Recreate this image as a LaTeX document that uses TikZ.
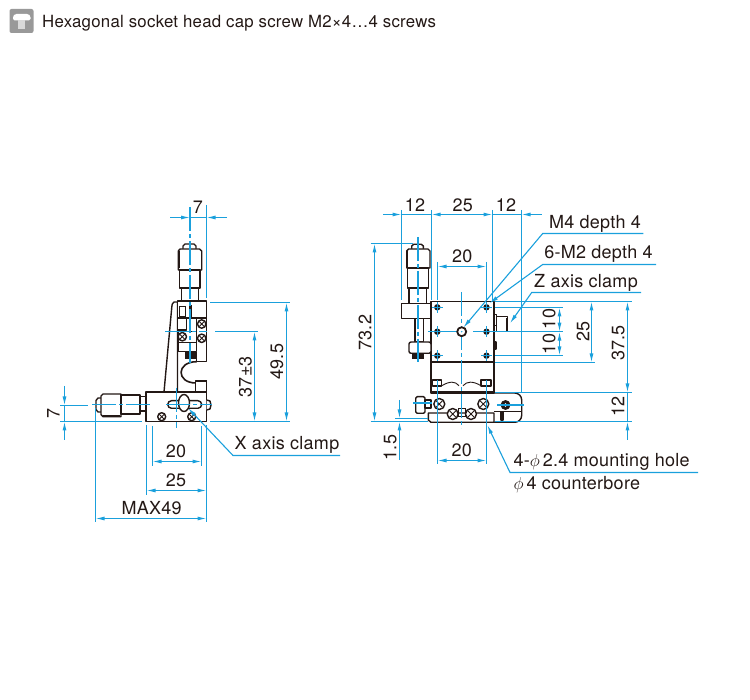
\documentclass[tikz,border=0pt]{standalone}
\usepackage{fontspec}
\setmainfont[LetterSpace=1.5]{TeX Gyre Heros}
\usetikzlibrary{arrows.meta}
\definecolor{ink}{HTML}{231815}
\definecolor{dimblue}{HTML}{1AA0DC}
\tikzset{
  part/.style={draw=ink,line width=1.4pt,fill=white,line join=round},
  thin part/.style={draw=ink,line width=0.9pt},
  dark part/.style={draw=ink,line width=0.8pt,fill=ink},
  dimline/.style={draw=dimblue,line width=1.1pt,{Latex[length=9pt,width=4pt]}-{Latex[length=9pt,width=4pt]}},
  onehead/.style={draw=dimblue,line width=1.1pt,-{Latex[length=9pt,width=4pt]}},
  extline/.style={draw=dimblue,line width=1.1pt},
  centerline/.style={draw=dimblue,line width=1.1pt,dash pattern=on 24pt off 3pt on 4pt off 3pt},
  leader/.style={draw=dimblue,line width=1.1pt,-{Latex[length=9pt,width=4pt]}},
  lbl/.style={text=ink,font=\fontsize{18}{20}\selectfont,inner sep=0pt},
  crossscrew/.pic={
    \draw[part] (0,0) circle[radius=#1];
    \draw[thin part] (-0.6*#1,-0.6*#1) -- (0.6*#1,0.6*#1) (-0.6*#1,0.6*#1) -- (0.6*#1,-0.6*#1);
  },
  holemark/.pic={
    \fill[ink] (0,0) circle[radius=3.2];
    \draw[extline] (-5.5,0) -- (5.5,0) (0,-5.5) -- (0,5.5);
  }
}
\begin{document}
\begin{tikzpicture}[x=1pt,y=-1pt]
\useasboundingbox (0,0) rectangle (750,700);

% header
\fill[black!40,rounded corners=2pt] (9.5,9) rectangle (33.5,33);
\fill[white,rounded corners=1.5pt] (13,20.5) -- (13,16) -- (15,14) -- (28.5,14) -- (30.5,16) -- (30.5,20.5) -- cycle;
\fill[white!85!black] (18.3,20.5) rectangle (25,29.3);
\node[lbl,anchor=west,font=\fontsize{16.8}{19}\selectfont] (title) at (42,23) {Hexagonal socket head cap screw M2×4…4 screws};

% side view, upper stage
\draw[part] (177.5,302) -- (174,302) .. controls (172,303) and (172,305) .. (171.8,307) -- (164,392) -- (177.5,392) -- cycle;
\draw[part] (177.7,301) rectangle (206.7,318);
\draw[thin part] (179.3,306.7) rectangle (185,316);
\draw[part] (177.7,318) rectangle (186.7,330);
\draw[part] (196.7,318) rectangle (206.7,361.5);
\draw[part] (178,331.7) rectangle (196.7,351.7);
\draw[thin part] (178,342.3) -- (196.7,342.3);
\draw[dark part] (185,352) rectangle (195,358);
\draw[line width=2.4pt,ink] (190.5,305) -- (190.5,318);
\pic at (201.7,324) {crossscrew=4.2};
\pic at (201.7,338.3) {crossscrew=4.2};
\pic at (182.3,336.7) {crossscrew=4.2};
\draw[part,fill=none,line width=1.6pt] (196.7,361.7) .. controls (176,361.7) and (176,383) .. (196,383);
\draw[part] (195.7,381) rectangle (206.7,392);
\draw[thin part] (200,380) -- (206.7,380);

% side view, micrometer on top
\draw[part] (183,249) -- (183,246) -- (185,244) -- (194,244) -- (196,246) -- (196,249);
\draw[part] (178.3,251) -- (180,249) -- (199.5,249) -- (201.7,251) -- (201.7,270) -- (178.3,270) -- cycle;
\draw[part] (179.3,270) rectangle (200,288);
\draw[part] (181.7,288) rectangle (198.3,301);
\draw[line width=2pt,ink] (178.6,251) -- (178.6,268);

% side view, lower stage
\draw[part] (146,392) rectangle (206.7,421.7);
\draw[line width=2pt,ink] (146,392) -- (177,392);
\draw[part] (206.7,400) -- (210,401) -- (211,405) -- (210,409) -- (206.7,410);
\draw[part,rounded corners=3.8pt] (167.7,400.7) rectangle (201.7,408.3);
\draw[part] (184,403) ellipse[x radius=5.5,y radius=8.5];
\pic at (161.7,416.7) {crossscrew=4};
\pic at (191.7,416.7) {crossscrew=4};

% side view, micrometer on the left
\draw[part] (101,398) -- (98,398) -- (96,400.5) -- (96,409.5) -- (98,412) -- (101,412);
\draw[part] (103,394) -- (101,396) -- (101,414.5) -- (103,416.7) -- (121,416.7) -- (121,394) -- cycle;
\draw[part] (121,395) rectangle (140,414);
\draw[part] (140,396.7) rectangle (146,411);
\draw[line width=2pt,ink] (103,416.3) -- (120,416.3);

% front view, plate and base
\draw[part,rounded corners=7pt] (431,393) -- (521.7,393) -- (521.7,422.3) -- (431,422.3);
\draw[part] (431,362) rectangle (494,393);
\draw[part] (428.3,413) -- (428.3,420) -- (431,422.3) -- (494,422.3) -- (494,413) -- cycle;
\draw[thin part] (494,411.5) -- (521.5,411.5);
\draw[part] (432.3,380) rectangle (441.7,386);
\draw[part] (481,380) rectangle (491,386);
\draw[thin part] (441.7,385.7) .. controls (450,381) and (455,381) .. (459,385.7) (463,385.7) .. controls (467,381) and (473,381) .. (481,385.7);
\draw[thin part] (431,391.7) -- (494,391.7);
\draw[part] (431,301.5) rectangle (494,362);
\draw[part] (494,314.3) rectangle (496.5,325.7);
\draw[part] (494,342) rectangle (496,349);
\draw[part] (496.5,316.7) rectangle (507.7,331.7);
\draw[line width=2pt,ink] (507.2,318) -- (507.2,331);
\draw[thin part] (458,408) rectangle (465,416);
\pic at (452.7,414) {crossscrew=5.5};
\pic at (471,414) {crossscrew=5.5};
\pic at (439.3,404) {crossscrew=5.5};
\pic at (483.3,404) {crossscrew=5.5};
\draw[dark part] (505.5,405) circle[radius=4.5];
\fill[white] (505.5,405) circle[radius=1.8];
\draw[part] (501,412) rectangle (503,420);

% front view, micrometer
\draw[part] (411.7,249) -- (411.7,246) -- (413.7,244.3) -- (421.3,244.3) -- (423.3,246) -- (423.3,249);
\draw[part] (406.7,251) -- (408.5,249) -- (428,249) -- (430,251) -- (430,268) -- (406.7,268) -- cycle;
\draw[part] (407.7,268) rectangle (428.3,288);
\draw[part] (409,288) rectangle (426.7,303.3);
\draw[part] (401.7,303.3) rectangle (431,318.3);
\draw[part] (415,318.3) rectangle (423.3,342);
\draw[part,rounded corners=2pt] (409,342) rectangle (431,353.3);
\draw[dark part] (412.3,353.3) rectangle (423.3,358);
\draw[line width=2pt,ink] (406.9,251) -- (406.9,267);
\draw[part,rounded corners=1.5pt] (415.7,396.7) rectangle (425,413.3);
\draw[part] (425,400) rectangle (431,408);

% center lines
\draw[centerline] (190,207) -- (190,363);
\draw[centerline] (165,331.7) -- (207,331.7);
\draw[centerline] (176.7,388) -- (176.7,428);
\draw[centerline] (92,404.5) -- (152,404.5);
\draw[centerline] (166,404.5) -- (212,404.5);
\draw[centerline] (418,237) -- (418,362);
\draw[centerline] (461.7,292) -- (461.7,428);
\draw[extline] (428,331.7) -- (457,331.7) (473,331.7) -- (563,331.7);
\draw[extline] (413,403) -- (432,403) (497,405) -- (524,405);
\draw[extline] (437.3,380) -- (437.3,427) (486.5,380) -- (486.5,427);
\draw[part,fill=white,line width=1.8pt] (461.7,331.7) circle[radius=4.5];
\fill[dimblue] (461.7,331.7) circle[radius=0.8];
\foreach \hx/\hy in {437.3/307.3,486.5/307.3,437.3/331.7,486.5/331.7,437.3/355.7,486.5/355.7}
  \pic at (\hx,\hy) {holemark};

% dimensions, side view
\draw[extline] (206.5,205) -- (206.5,298);
\draw[onehead] (170,217.5) -- (190,217.5);
\draw[onehead] (227,217.5) -- (206.5,217.5);
\draw[extline] (190,217.5) -- (206.5,217.5);
\node[lbl] (sideseven) at (198,207.5) {7};
\draw[extline] (210,302.5) -- (290,302.5) (215,331.5) -- (258,331.5) (210,421.5) -- (290,421.5);
\draw[dimline] (254.5,331.5) -- (254.5,421.5);
\draw[dimline] (286.5,302.5) -- (286.5,421.5);
\node[lbl,rotate=90] (clampheight) at (245.5,376.7) {37±3};
\node[lbl,rotate=90] (totalheight) at (277,361.7) {49.5};
\draw[extline] (60,405.5) -- (88,405.5) (60,421.5) -- (141.7,421.5);
\draw[onehead] (64.5,386) -- (64.5,405.5);
\draw[onehead] (64.5,440) -- (64.5,421.5);
\draw[extline] (64.5,405.5) -- (64.5,421.5);
\node[lbl,rotate=90] (leftseven) at (53.5,413) {7};
\draw[extline] (152.5,426) -- (152.5,466) (201.5,426) -- (201.5,466) (146.5,425) -- (146.5,495) (206.5,425) -- (206.5,522) (95.5,408) -- (95.5,522);
\draw[dimline] (152.5,461.5) -- (201.5,461.5);
\draw[dimline] (146.5,490.5) -- (206.5,490.5);
\draw[dimline] (95.5,518.5) -- (206.5,518.5);
\node[lbl] (sidetwenty) at (176,451.5) {20};
\node[lbl] (sidetwentyfive) at (176,480) {25};
\node[lbl] (maxlength) at (151.7,508) {MAX49};

% x axis clamp
\coordinate (xclamp) at (188,408);
\coordinate (xbend) at (233,455.5);
\coordinate (xend) at (340,455.5);
\draw[leader] (xend) -- (xbend) -- (xclamp);
\node[lbl] (xclamplabel) at (287,445) {X axis clamp};

% dimensions, front view
\draw[extline] (401.5,210) -- (401.5,300) (431.5,210) -- (431.5,300) (492.5,210) -- (492.5,300) (521.5,210) -- (521.5,392);
\draw[onehead] (383.3,214.5) -- (401.5,214.5);
\draw[extline] (401.5,214.5) -- (431.5,214.5) (492.5,214.5) -- (521.5,214.5);
\draw[dimline] (431.5,214.5) -- (492.5,214.5);
\draw[onehead] (541.7,214.5) -- (521.5,214.5);
\node[lbl] (widthleft) at (415,205) {12};
\node[lbl] (widthmid) at (462.7,205) {25};
\node[lbl] (widthright) at (506,205) {12};
\draw[extline] (437.5,262) -- (437.5,300) (486.5,262) -- (486.5,300);
\draw[dimline] (437.5,266.5) -- (486.5,266.5);
\node[lbl] (holetwenty) at (462.3,256.7) {20};
\draw[extline] (370.7,243.5) -- (413,243.5) (370.7,421.5) -- (428,421.5) (395,418.5) -- (428,418.5);
\draw[dimline] (374.5,243.5) -- (374.5,421.5);
\node[lbl,rotate=90] (overallheight) at (365,332.7) {73.2};
\draw[onehead] (399.5,400) -- (399.5,418.5);
\draw[onehead] (399.5,460) -- (399.5,421.5);
\node[lbl,rotate=90] (stepheight) at (390,447.7) {1.5};
\draw[extline] (437.5,423) -- (437.5,464) (486.5,423) -- (486.5,464);
\draw[dimline] (437.5,460.5) -- (486.5,460.5);
\node[lbl] (basetwenty) at (461.7,450.7) {20};
\draw[extline] (495,301.5) -- (631.7,301.5) (495,307.5) -- (563,307.5) (495,355.5) -- (563,355.5) (495,362.5) -- (595,362.5) (495,392.5) -- (631.7,392.5) (495,421.5) -- (631.7,421.5);
\draw[dimline] (559.5,307.5) -- (559.5,331.7);
\draw[dimline] (559.5,331.7) -- (559.5,355.5);
\draw[dimline] (591.5,301.5) -- (591.5,362.5);
\draw[dimline] (627.5,301.5) -- (627.5,392.5);
\draw[extline] (627.5,392.5) -- (627.5,421.5);
\draw[onehead] (627.5,440) -- (627.5,421.5);
\node[lbl,rotate=90] (tenup) at (549,319) {10};
\node[lbl,rotate=90] (tendown) at (549,344) {10};
\node[lbl,rotate=90] (rightwidth) at (583,331.7) {25};
\node[lbl,rotate=90] (upperheight) at (618,343) {37.5};
\node[lbl,rotate=90] (lowerheight) at (618,406.7) {12};

% leaders, front view
\coordinate (mfour) at (463.3,327.7);
\coordinate (mtwo) at (489.3,303.3);
\coordinate (zclamp) at (510,323.3);
\coordinate (mount) at (487.3,425);
\draw[leader] (643.3,233.5) -- (542.7,233.5) -- (mfour);
\draw[leader] (656,264.5) -- (542.7,264.5) -- (mtwo);
\draw[leader] (641,292.5) -- (531.7,292.5) -- (zclamp);
\draw[leader] (698,472.5) -- (510,472.5) -- (mount);
\node[lbl] (mfourlabel) at (595,223.5) {M4 depth 4};
\node[lbl] (mtwolabel) at (598.5,253.5) {6-M2 depth 4};
\node[lbl] (zclamplabel) at (586,282.5) {Z axis clamp};
\node[lbl,anchor=west] (mountlabel) at (513.3,461.5) {4-$\phi$\,2.4 mounting hole};
\node[lbl,anchor=west] (borelabel) at (513.3,485) {$\phi$\,4 counterbore};
\end{tikzpicture}
\end{document}
